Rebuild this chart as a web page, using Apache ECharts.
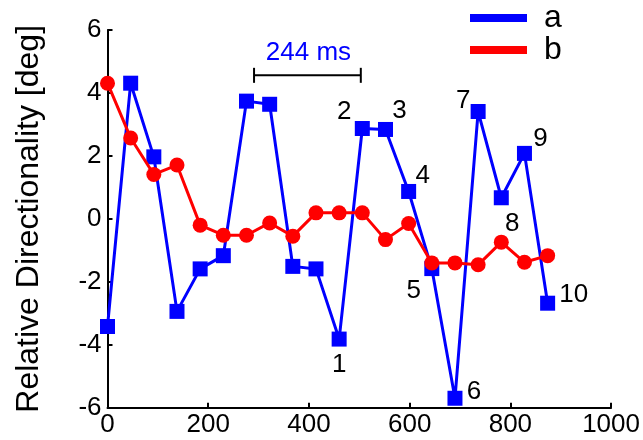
<!DOCTYPE html>
<html>
<head>
<meta charset="utf-8">
<script src="https://cdn.jsdelivr.net/npm/echarts@6/dist/echarts.min.js"></script>
<style>
html,body{margin:0;padding:0;background:#fff;}
#chart{width:643px;height:440px;}
</style>
</head>
<body>
<div id="chart"></div>
<script>
// ---- data ----
var timeMs = [0, 46, 92, 138, 184, 230, 276, 322, 368, 414, 460, 506, 552, 598, 644, 690, 736, 782, 828, 874];
var seriesA = [-3.42, 4.31, 1.97, -2.94, -1.59, -1.17, 3.74, 3.64, -1.51, -1.59, -3.82, 2.87, 2.84, 0.87, -1.58, -5.70, 3.41, 0.67, 2.08, -2.68];
var seriesB = [4.31, 2.57, 1.41, 1.71, -0.20, -0.52, -0.52, -0.13, -0.55, 0.19, 0.19, 0.19, -0.66, -0.15, -1.40, -1.40, -1.46, -0.74, -1.38, -1.17];
var pointLabelsA = ['', '', '', '', '', '', '', '', '', '', '1', '2', '3', '4', '5', '6', '7', '8', '9', '10'];
var seriesNames = ['a', 'b'];
var scaleBarX = [291, 503];
var scaleBarY = 4.56;
var scaleBarText = '244 ms';
var xTicks = [0, 200, 400, 600, 800, 1000];
var yTicks = [-6, -4, -2, 0, 2, 4, 6];

// ---- styling / layout (not data) ----
var FONT = "'Liberation Sans', Arial, sans-serif";
var labelOffsets = {
  '1': [0, 26], '2': [-18, -17], '3': [14, -19], '4': [14, -16], '5': [-18, 22],
  '6': [19, -6], '7': [-15, -11], '8': [11, 26], '9': [16, -15], '10': [26, -8]
};

var dataA = timeMs.map(function (t, i) {
  var item = { value: [t, seriesA[i]] };
  var txt = pointLabelsA[i];
  if (txt) {
    item.label = {
      show: true, position: 'inside', formatter: txt,
      offset: labelOffsets[txt], color: '#000', fontSize: 26, fontFamily: FONT
    };
  }
  return item;
});
var dataB = timeMs.map(function (t, i) { return [t, seriesB[i]]; });
var barData = scaleBarX.map(function (x) { return [x, scaleBarY]; });

var chart = echarts.init(document.getElementById('chart'), null, { renderer: 'canvas' });
chart.setOption({
  animation: false,
  backgroundColor: '#fff',
  grid: { left: 107.5, right: 31.3, top: 30, bottom: 32.3, containLabel: false },
  legend: {
    orient: 'vertical', left: 470, top: 2, padding: 0, itemGap: 0,
    itemWidth: 57, itemHeight: 8,
    data: [
      { name: seriesNames[0], icon: 'rect', itemStyle: { color: '#0000ff' } },
      { name: seriesNames[1], icon: 'rect', itemStyle: { color: '#ff0000' } }
    ],
    textStyle: { fontSize: 32, fontFamily: FONT, color: '#000', lineHeight: 32, padding: [0, 0, 0, 12] }
  },
  xAxis: {
    type: 'value', min: xTicks[0], max: xTicks[xTicks.length - 1], interval: xTicks[1] - xTicks[0],
    axisLine: { show: true, onZero: false, lineStyle: { color: '#000', width: 2 } },
    axisTick: { show: true, inside: true, length: 5, lineStyle: { color: '#000', width: 2 } },
    axisLabel: { color: '#000', fontSize: 26, fontFamily: FONT, margin: 4,
                 formatter: function (v) { return String(v); } },
    splitLine: { show: false }
  },
  yAxis: {
    type: 'value', min: yTicks[0], max: yTicks[yTicks.length - 1], interval: yTicks[1] - yTicks[0],
    name: 'Relative Directionality [deg]', nameLocation: 'middle', nameGap: 62,
    nameTextStyle: { color: '#000', fontSize: 32, fontFamily: FONT },
    axisLine: { show: true, onZero: false, lineStyle: { color: '#000', width: 2 } },
    axisTick: { show: true, inside: true, length: 5, lineStyle: { color: '#000', width: 2 } },
    axisLabel: { color: '#000', fontSize: 26, fontFamily: FONT, margin: 6,
                 formatter: function (v) { return String(v); } },
    splitLine: { show: false }
  },
  series: [
    {
      name: seriesNames[0], type: 'line', data: dataA,
      symbol: 'rect', symbolSize: 15, showAllSymbol: true,
      lineStyle: { color: '#0000ff', width: 3 },
      itemStyle: { color: '#0000ff' },
      emphasis: { disabled: true }, z: 2
    },
    {
      name: seriesNames[1], type: 'line', data: dataB,
      symbol: 'circle', symbolSize: 15, showAllSymbol: true,
      lineStyle: { color: '#ff0000', width: 3 },
      itemStyle: { color: '#ff0000' },
      emphasis: { disabled: true }, z: 3
    },
    {
      name: 'scalebar', type: 'line', data: barData,
      symbol: 'rect', symbolSize: [2, 15],
      lineStyle: { color: '#000', width: 2 },
      itemStyle: { color: '#000' },
      emphasis: { disabled: true }, silent: true, z: 4,
      markPoint: {
        symbol: 'circle', symbolSize: 0, silent: true,
        data: [{ coord: [(scaleBarX[0] + scaleBarX[1]) / 2, scaleBarY] }],
        label: { show: true, formatter: scaleBarText, position: 'inside', offset: [1, -22],
                 color: '#0000ff', fontSize: 26, fontFamily: FONT }
      }
    }
  ]
});
</script>
</body>
</html>
